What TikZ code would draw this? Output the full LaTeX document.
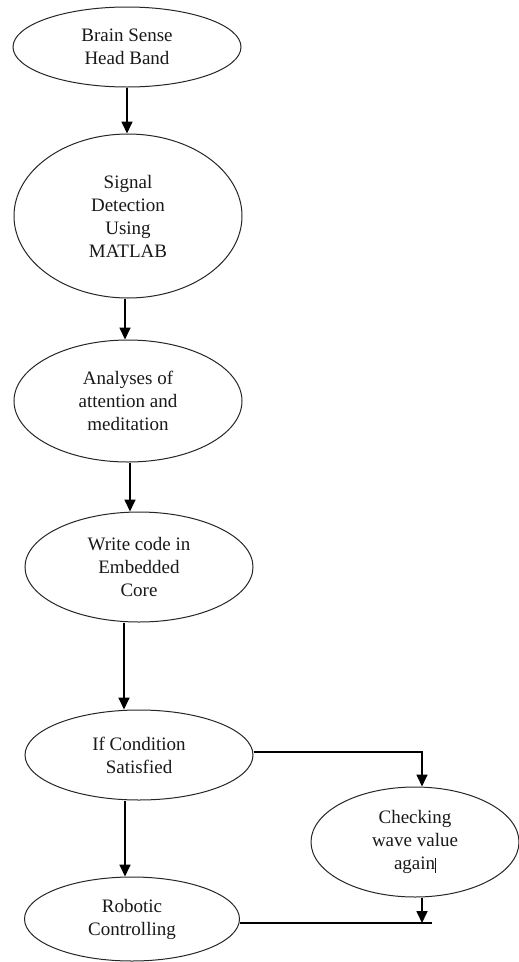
\documentclass[tikz,border=0pt]{standalone}
\usepackage{fontspec}
\setmainfont{Liberation Serif}
\usetikzlibrary{shapes.geometric,arrows.meta,calc}
\begin{document}
\begin{tikzpicture}[x=1pt,y=-1pt,
  oval/.style={ellipse,draw=black!85,line width=1pt,inner sep=0pt,align=center,
    font=\fontsize{19}{23}\selectfont,text=black!90},
  arr/.style={line width=1.7pt,-{Triangle[length=12pt,width=11pt]}},
  ln/.style={line width=1.7pt}]
\useasboundingbox[fill=white] (0,0) rectangle (519,962);
\node[oval,minimum width=228pt,minimum height=80pt] (b1) at (127,47) {Brain Sense\\Head Band};
\node[oval,minimum width=228pt,minimum height=164pt] (b2) at (128,216) {Signal\\Detection\\Using\\MATLAB};
\node[oval,minimum width=228pt,minimum height=122pt] (b3) at (128,401) {Analyses of\\attention and\\meditation};
\node[oval,minimum width=228pt,minimum height=110pt] (b4) at (139,567) {Write code in\\Embedded\\Core};
\node[oval,minimum width=228pt,minimum height=90pt] (b5) at (139,755) {If Condition\\Satisfied};
\node[oval,minimum width=215pt,minimum height=84pt] (b6) at (132,919) {Robotic\\Controlling};
\node[oval,minimum width=208pt,minimum height=110pt] (b7) at (415,842) {Checking\\wave value\\again\rule[-3pt]{0.8pt}{15pt}};
\coordinate (j) at (432,923);
\coordinate (k) at (422,923);
\draw[arr] (b1.south) -- (b1.south |- b2.north);
\draw[arr] ($(b2.south)+(-3,0)$) -- ($(b2.south |- b3.north)+(-3,0)$);
\draw[arr] ($(b3.south)+(2,0)$) -- ($(b3.south |- b4.north)+(2,0)$);
\draw[arr] ($(b4.south)+(-15,0)$) -- ($(b4.south |- b5.north)+(-15,0)$);
\draw[arr] ($(b5.south)+(-14,0)$) -- ($(b5.south |- b6.north)+(-14,0)$);
\draw[arr] ($(b5.east)+(0,-3)$) -| ($(b7.north)+(7,0)$);
\draw[arr] ($(b7.south)+(7,0)$) -- (k);
\draw[ln] (b6.east |- j) -- (j);
\end{tikzpicture}
\end{document}
